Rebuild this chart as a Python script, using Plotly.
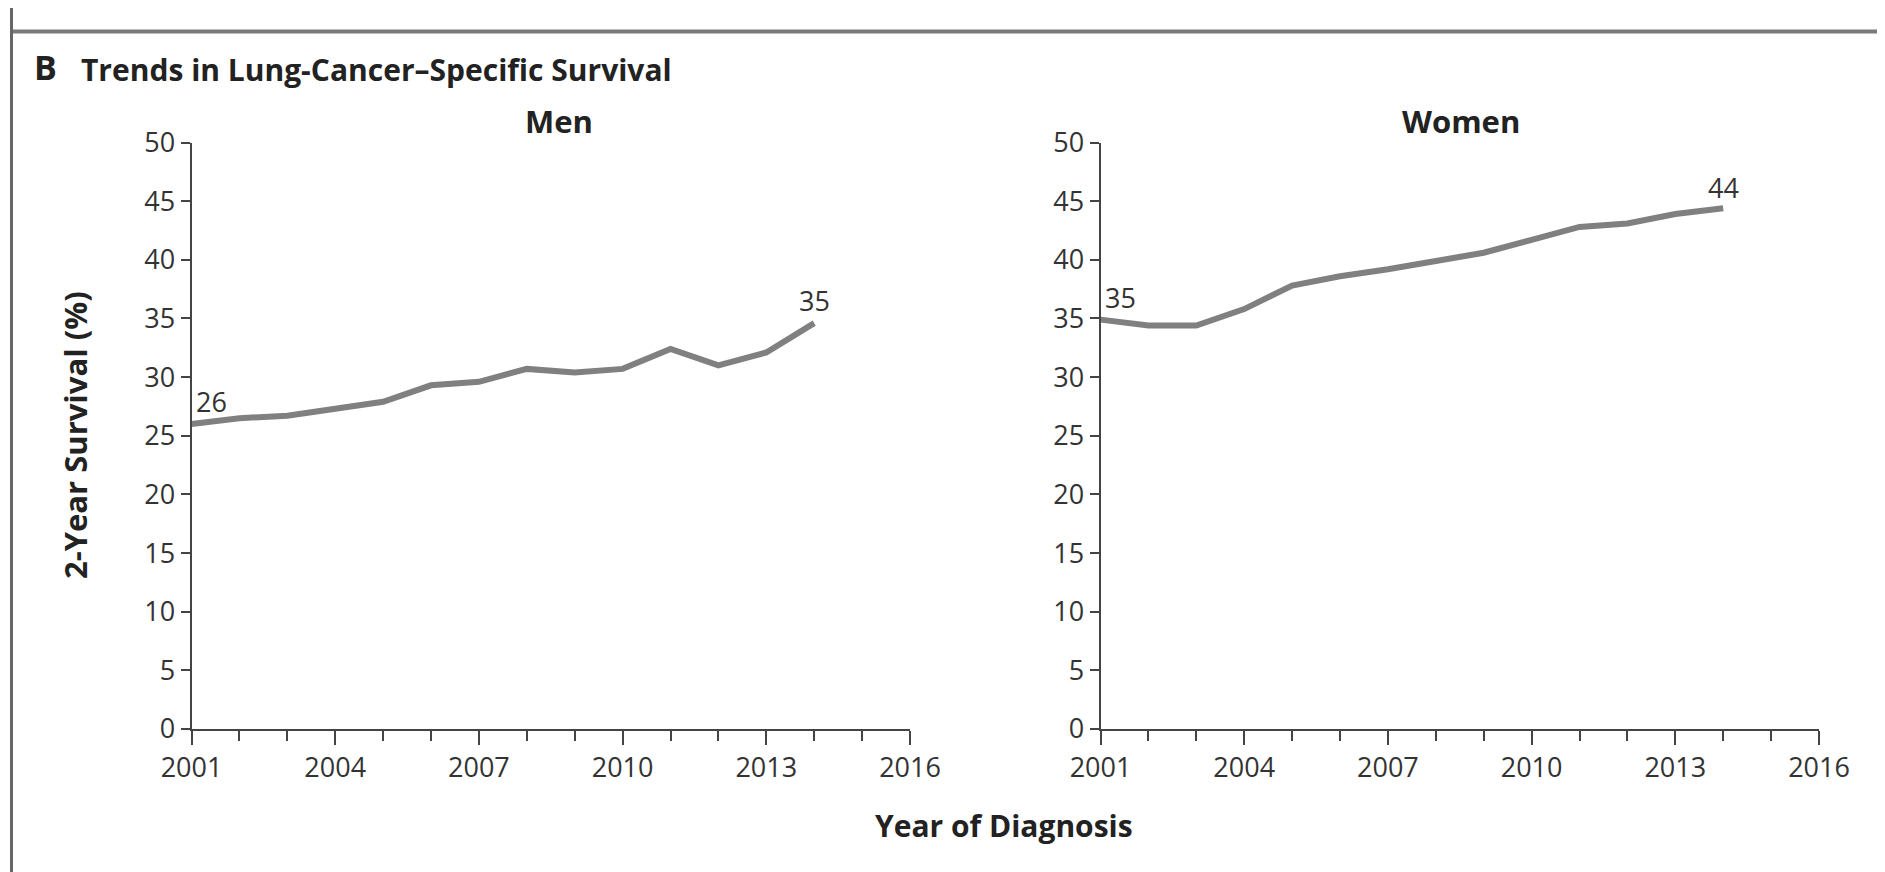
import plotly.graph_objects as go

years = list(range(2001, 2015))
men = [26.0, 26.5, 26.7, 27.3, 27.9, 29.3, 29.6, 30.7, 30.4, 30.7, 32.4, 31.0, 32.1, 34.6]
women = [34.9, 34.4, 34.4, 35.8, 37.8, 38.6, 39.2, 39.9, 40.6, 41.7, 42.8, 43.1, 43.9, 44.4]
panel_titles = ["Men", "Women"]
xtick_vals = [2001, 2004, 2007, 2010, 2013, 2016]
ytick_vals = [0, 5, 10, 15, 20, 25, 30, 35, 40, 45, 50]

FONT = "Open Sans"
TXT = "#333333"
LINE = "#808080"
AX = "#444444"

fig = go.Figure()
fig.add_trace(go.Scatter(x=years, y=men, mode="lines", line=dict(color=LINE, width=6),
                         xaxis="x", yaxis="y", showlegend=False, hoverinfo="skip"))
fig.add_trace(go.Scatter(x=years, y=women, mode="lines", line=dict(color=LINE, width=6),
                         xaxis="x2", yaxis="y2", showlegend=False, hoverinfo="skip"))

W, H = 1885, 872
OFF = 8  # page body margin
def px(x): return (x - OFF) / W
def py(y): return 1 - (y - OFF) / H

ydom = [py(729), py(142.5)]
xdom1 = [px(191.5), px(910)]
xdom2 = [px(1100.5), px(1819)]

common_x = dict(range=[2001, 2016], tickvals=xtick_vals, ticktext=[str(v) for v in xtick_vals],
                ticks="outside", ticklen=14, tickwidth=2, tickcolor=AX,
                showline=True, linecolor=AX, linewidth=2, showgrid=False, zeroline=False,
                minor=dict(dtick=1, tick0=2001, ticks="outside", ticklen=10, tickwidth=2, tickcolor=AX, showgrid=False),
                tickfont=dict(family=FONT, size=27, color=TXT), automargin=False, fixedrange=True)
common_y = dict(range=[0, 50], tickvals=ytick_vals, ticks="outside", ticklen=9, tickwidth=2, tickcolor=AX,
                showline=True, linecolor=AX, linewidth=2, showgrid=False, zeroline=False,
                tickfont=dict(family=FONT, size=27, color=TXT), domain=ydom, automargin=False, fixedrange=True)

fig.update_layout(
    template="none",
    width=W, height=H, margin=dict(l=0, r=0, t=0, b=0, pad=0, autoexpand=False),
    paper_bgcolor="white", plot_bgcolor="white",
    xaxis=dict(common_x, domain=xdom1, anchor="y"),
    yaxis=dict(common_y, anchor="x"),
    xaxis2=dict(common_x, domain=xdom2, anchor="y2"),
    yaxis2=dict(common_y, anchor="x2"),
)

TITLE_C = "#222222"
annots = [
    dict(text="<b>B</b>", x=px(32), y=py(67), xanchor="left", yanchor="middle", font=dict(size=34, family=FONT, color=TITLE_C)),
    dict(text="<b>Trends in Lung-Cancer–Specific Survival</b>", x=px(79), y=py(70), xanchor="left", yanchor="middle",
         font=dict(size=30, family=FONT, color=TITLE_C)),
    dict(text="<b>" + panel_titles[0] + "</b>", x=px(559), y=py(121), xanchor="center", yanchor="middle",
         font=dict(size=31, family=FONT, color=TITLE_C)),
    dict(text="<b>" + panel_titles[1] + "</b>", x=px(1461), y=py(121), xanchor="center", yanchor="middle",
         font=dict(size=31, family=FONT, color=TITLE_C)),
    dict(text="<b>Year of Diagnosis</b>", x=px(1004), y=py(825), xanchor="center", yanchor="middle",
         font=dict(size=30, family=FONT, color=TITLE_C)),
    dict(text="<b>2-Year Survival (%)</b>", x=px(75), y=py(435), xanchor="center", yanchor="middle", textangle=-90,
         font=dict(size=31, family=FONT, color=TITLE_C)),
]
for a in annots:
    a.update(xref="paper", yref="paper", showarrow=False)
    fig.add_annotation(**a)

lbl = dict(showarrow=False, font=dict(size=27, family=FONT, color=TXT), yanchor="bottom")
fig.add_annotation(x=years[0], y=men[0], xref="x", yref="y", text=f"{round(men[0])}", xanchor="left", xshift=2, yshift=2, **lbl)
fig.add_annotation(x=years[-1], y=men[-1], xref="x", yref="y", text=f"{round(men[-1])}", xanchor="center", yshift=2, **lbl)
fig.add_annotation(x=years[0], y=women[0], xref="x2", yref="y2", text=f"{round(women[0])}", xanchor="left", xshift=2, yshift=2, **lbl)
fig.add_annotation(x=years[-1], y=women[-1], xref="x2", yref="y2", text=f"{round(women[-1])}", xanchor="center", yshift=0, **lbl)

# frame lines
fig.add_shape(type="line", xref="paper", yref="paper", x0=px(11), x1=1.02, y0=py(31.5), y1=py(31.5),
              line=dict(color="#7a7a7a", width=4))
fig.add_shape(type="line", xref="paper", yref="paper", x0=px(11.5), x1=px(11.5), y0=-0.02, y1=1.02,
              line=dict(color="#666666", width=3))

fig.write_html("out.html")
